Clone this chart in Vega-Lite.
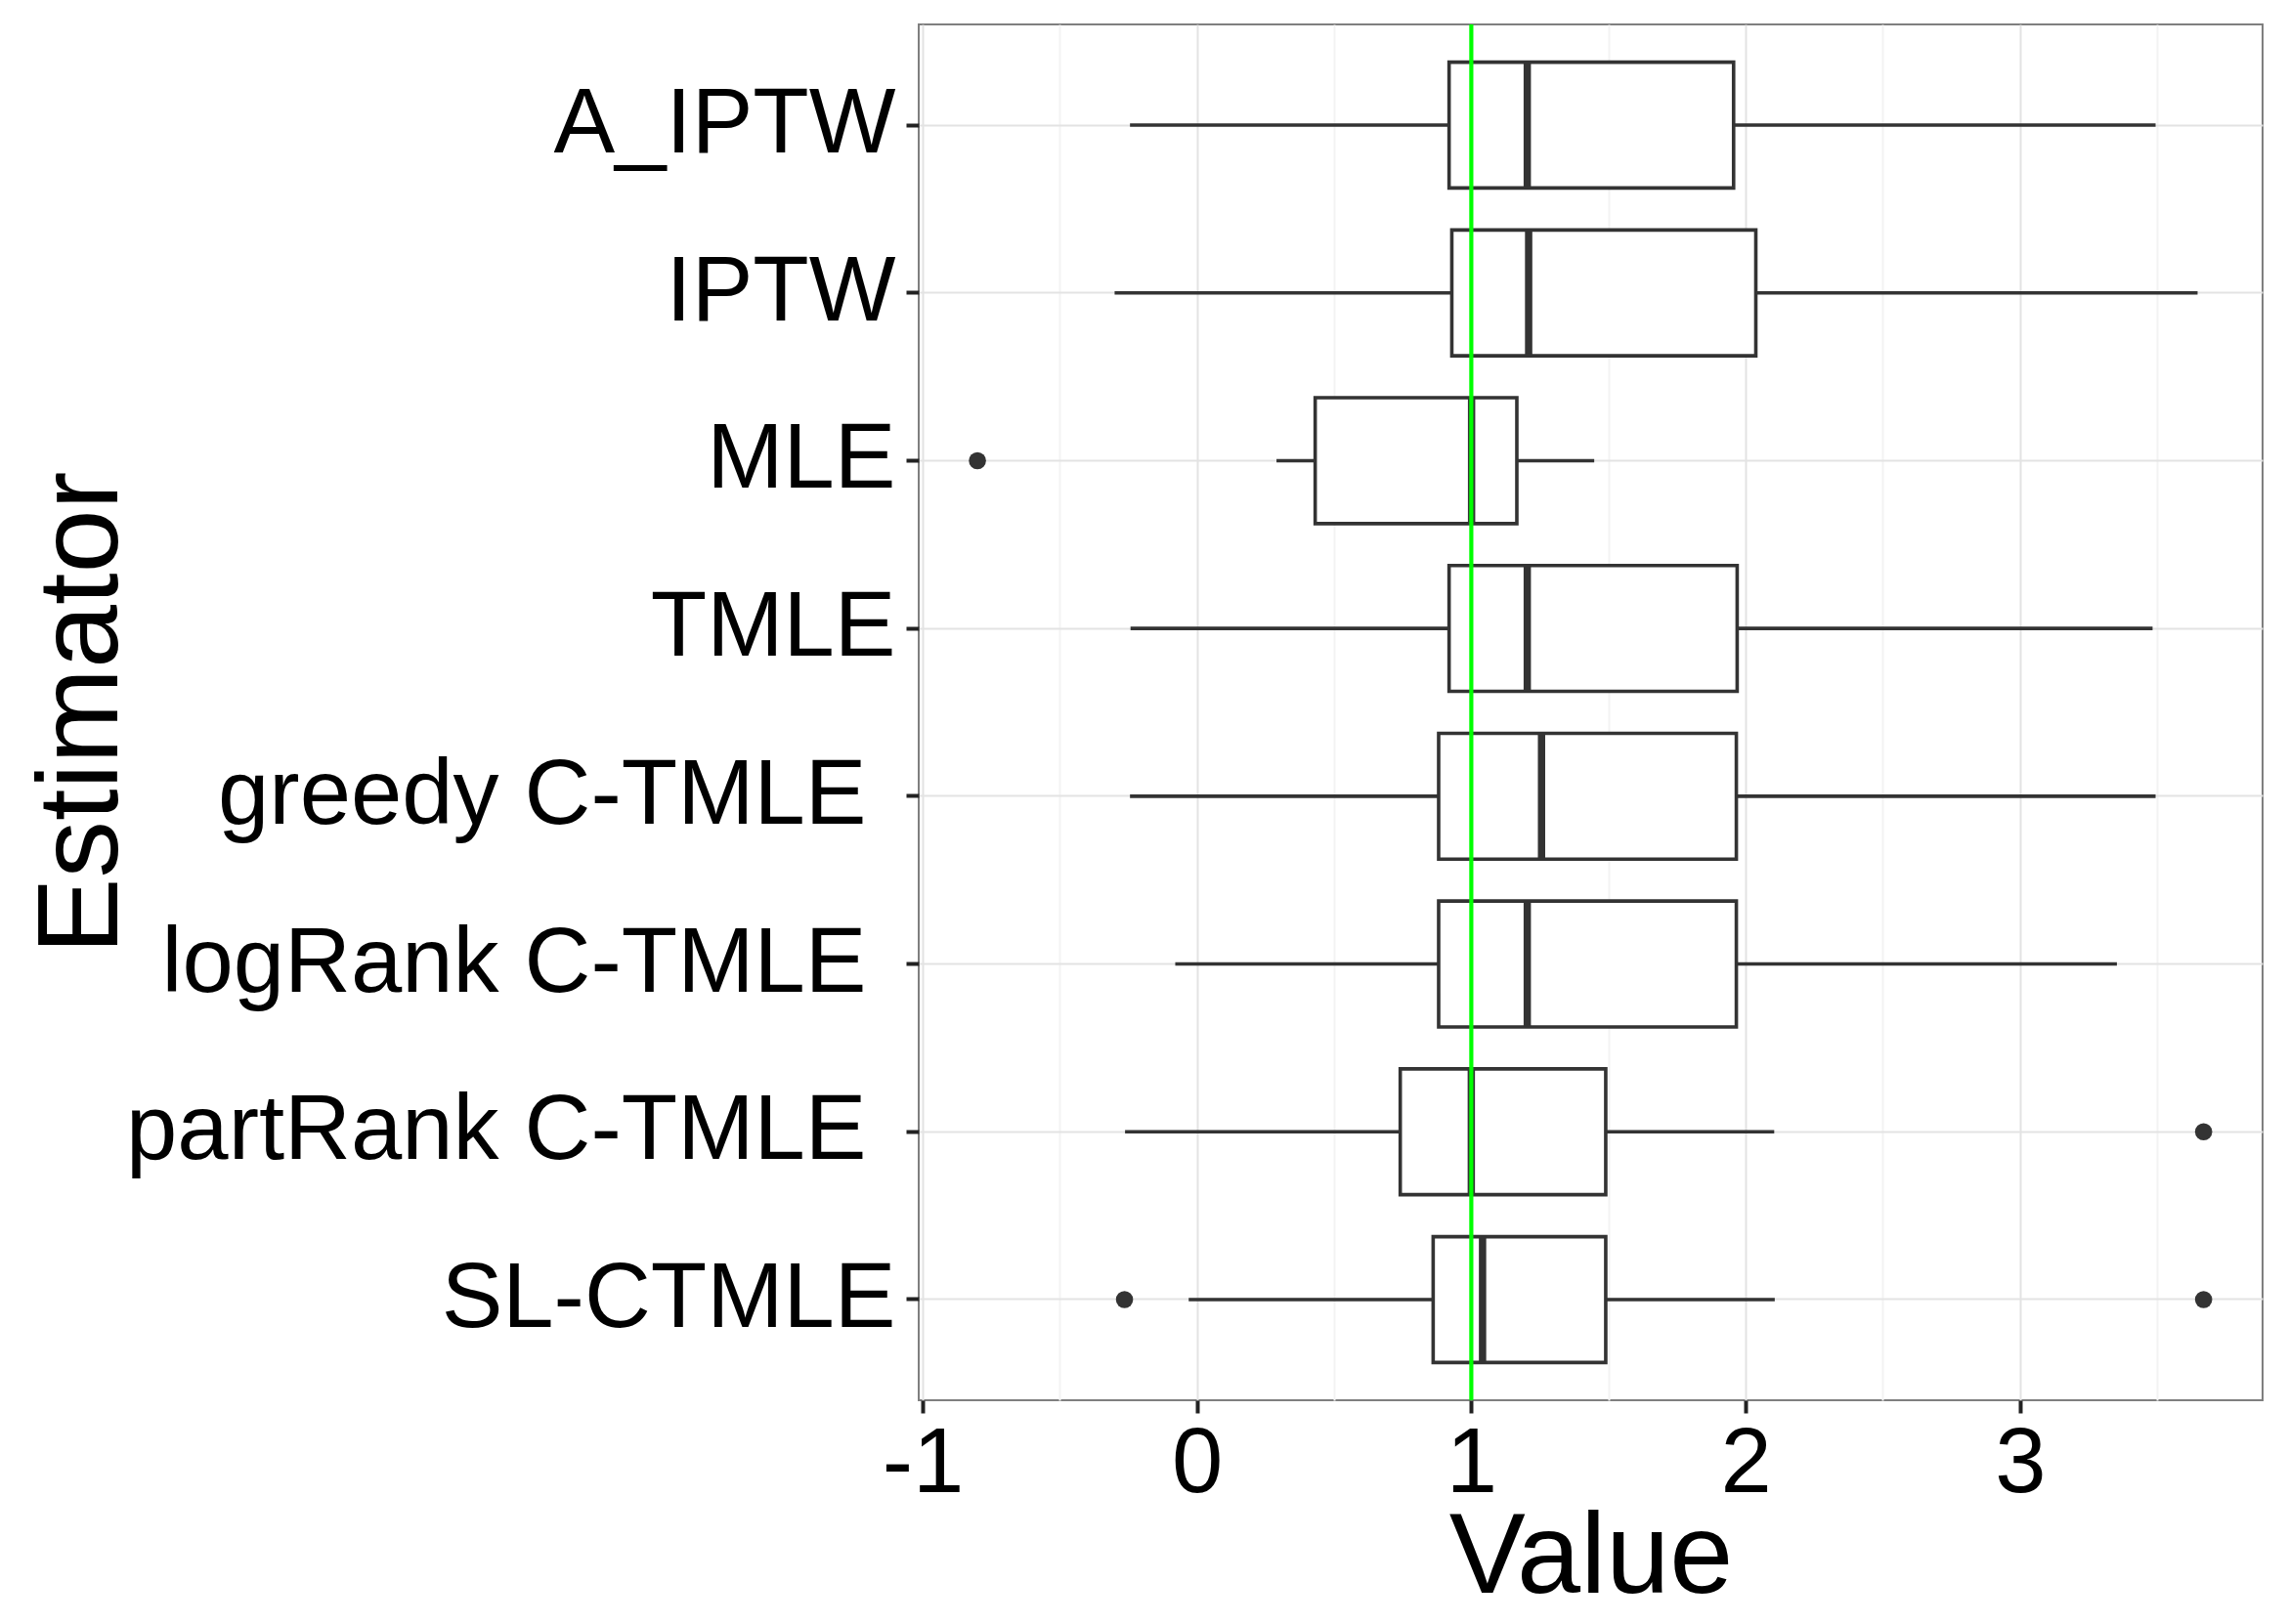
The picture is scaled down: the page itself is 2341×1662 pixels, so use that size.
{
  "$schema": "https://vega.github.io/schema/vega-lite/v6.json",
  "width": 1375,
  "height": 1408,
  "autosize": {"type": "none"},
  "padding": {"left": 940, "top": 25, "right": 26, "bottom": 229},
  "background": "white",
  "config": {
    "view": {"stroke": "#7f7f7f", "strokeWidth": 2},
    "font": "Liberation Sans",
    "axis": {
      "labelFont": "Liberation Sans",
      "labelFontSize": 94,
      "labelColor": "#000000",
      "tickColor": "#222222",
      "tickWidth": 4,
      "tickSize": 13,
      "domain": false,
      "grid": true,
      "gridColor": "#e3e3e3",
      "gridWidth": 2,
      "titleFont": "Liberation Sans",
      "titleFontSize": 117,
      "titleFontWeight": "normal",
      "titleColor": "#000000"
    }
  },
  "datasets": {
    "stats": [
      {"estimator": "A_IPTW", "lower": -0.244, "q1": 0.919, "median": 1.204, "q3": 1.956, "upper": 3.494},
      {"estimator": "IPTW", "lower": -0.300, "q1": 0.929, "median": 1.209, "q3": 2.037, "upper": 3.647},
      {"estimator": "MLE", "lower": 0.290, "q1": 0.431, "median": 1.001, "q3": 1.166, "upper": 1.448},
      {"estimator": "TMLE", "lower": -0.242, "q1": 0.919, "median": 1.204, "q3": 1.969, "upper": 3.483},
      {"estimator": "greedy C-TMLE", "lower": -0.244, "q1": 0.881, "median": 1.256, "q3": 1.966, "upper": 3.494},
      {"estimator": "logRank C-TMLE", "lower": -0.079, "q1": 0.881, "median": 1.204, "q3": 1.966, "upper": 3.353},
      {"estimator": "partRank C-TMLE", "lower": -0.262, "q1": 0.741, "median": 1.0, "q3": 1.490, "upper": 2.104},
      {"estimator": "SL-CTMLE", "lower": -0.030, "q1": 0.861, "median": 1.041, "q3": 1.490, "upper": 2.106}
    ],
    "outliers": [
      {"estimator": "MLE", "value": -0.800},
      {"estimator": "partRank C-TMLE", "value": 3.669},
      {"estimator": "SL-CTMLE", "value": -0.264},
      {"estimator": "SL-CTMLE", "value": 3.669}
    ],
    "reference": [
      {"truth": 1}
    ]
  },
  "layer": [
    {
      "data": {"name": "stats"},
      "mark": {"type": "rule", "color": "#333333", "strokeWidth": 3.6},
      "encoding": {
        "y": {
          "field": "estimator",
          "type": "nominal",
          "sort": ["A_IPTW", "IPTW", "MLE", "TMLE", "greedy C-TMLE", "logRank C-TMLE", "partRank C-TMLE", "SL-CTMLE"],
          "scale": {"type": "band", "paddingInner": 0, "paddingOuter": 0.1},
          "title": "Estimator",
          "axis": {
            "labelPadding": {"condition": {"test": "indexof(datum.value, ' C-TMLE') >= 0", "value": 41}, "value": 11},
            "labelLimit": 2000,
            "titleBaseline": "alphabetic",
            "titleX": -821
          }
        },
        "x": {
          "field": "lower",
          "type": "quantitative",
          "scale": {"domain": [-1.014, 3.884], "nice": false, "zero": false},
          "title": "Value",
          "axis": {
            "values": [-1, -0.5, 0, 0.5, 1, 1.5, 2, 2.5, 3, 3.5],
            "labelExpr": "datum.value % 1 === 0 ? '' + datum.value : ''",
            "labelFlush": false,
            "labelOverlap": false,
            "labelPadding": 6,
            "titleBaseline": "alphabetic",
            "titleY": 196,
            "tickOpacity": {"condition": {"test": "datum.value % 1 !== 0", "value": 0}, "value": 1},
            "gridColor": {"condition": {"test": "datum.value % 1 !== 0", "value": "#f3f3f3"}, "value": "#e3e3e3"}
          }
        },
        "x2": {"field": "upper"}
      }
    },
    {
      "data": {"name": "stats"},
      "mark": {"type": "bar", "fill": "white", "stroke": "#333333", "strokeWidth": 3.6, "height": {"band": 0.75}},
      "encoding": {
        "y": {"field": "estimator", "type": "nominal", "sort": ["A_IPTW", "IPTW", "MLE", "TMLE", "greedy C-TMLE", "logRank C-TMLE", "partRank C-TMLE", "SL-CTMLE"]},
        "x": {"field": "q1", "type": "quantitative"},
        "x2": {"field": "q3"}
      }
    },
    {
      "data": {"name": "stats"},
      "mark": {"type": "tick", "color": "#333333", "thickness": 7.5, "size": 128.5, "opacity": 1},
      "encoding": {
        "y": {"field": "estimator", "type": "nominal", "sort": ["A_IPTW", "IPTW", "MLE", "TMLE", "greedy C-TMLE", "logRank C-TMLE", "partRank C-TMLE", "SL-CTMLE"]},
        "x": {"field": "median", "type": "quantitative"}
      }
    },
    {
      "data": {"name": "outliers"},
      "mark": {"type": "circle", "color": "#333333", "opacity": 1, "size": 310},
      "encoding": {
        "y": {"field": "estimator", "type": "nominal", "sort": ["A_IPTW", "IPTW", "MLE", "TMLE", "greedy C-TMLE", "logRank C-TMLE", "partRank C-TMLE", "SL-CTMLE"]},
        "x": {"field": "value", "type": "quantitative"}
      }
    },
    {
      "data": {"name": "reference"},
      "mark": {"type": "rule", "color": "#00ff00", "strokeWidth": 4.2},
      "encoding": {
        "x": {"field": "truth", "type": "quantitative"}
      }
    }
  ]
}
